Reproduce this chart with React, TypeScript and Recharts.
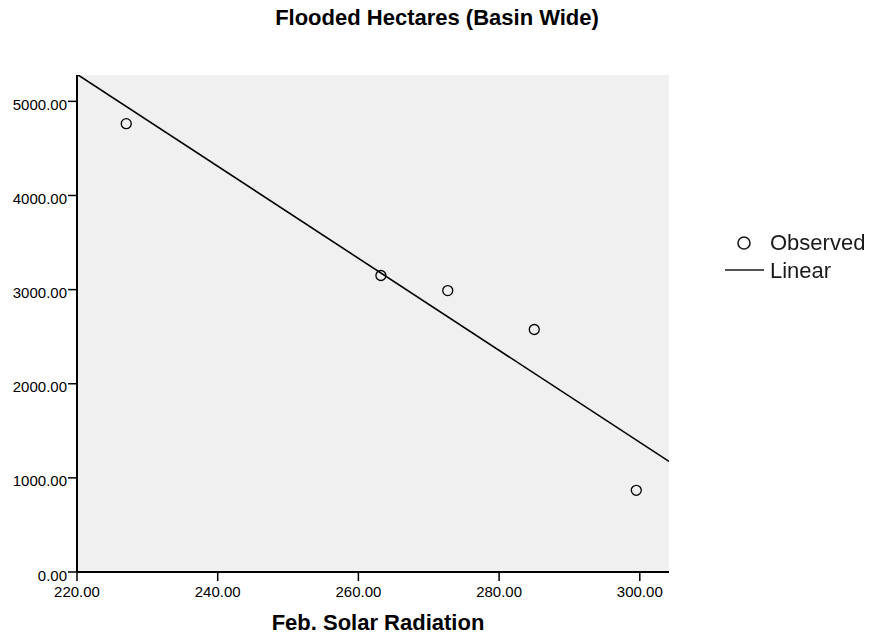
import React from 'react';
import { ScatterChart, Scatter, XAxis, YAxis, CartesianGrid } from 'recharts';

// Observed pairs: February solar radiation vs. basin-wide flooded hectares
const solarRadiation = [227.0, 263.2, 272.7, 285.0, 299.5];
const floodedHectares = [4763, 3150, 2990, 2576, 868];

const xTicks = [220, 240, 260, 280, 300];
const yTicks = [0, 1000, 2000, 3000, 4000, 5000];
const xDomain: [number, number] = [220, 304.15];
const yDomain: [number, number] = [0, 5280];

const observed = solarRadiation.map((x, i) => ({ x, y: floodedHectares[i] }));

// Least-squares linear fit through the observed points, drawn across the x range
function linearFit(xs: number[], ys: number[]) {
  const n = xs.length;
  const mx = xs.reduce((a, b) => a + b, 0) / n;
  const my = ys.reduce((a, b) => a + b, 0) / n;
  let sxy = 0;
  let sxx = 0;
  for (let i = 0; i < n; i++) {
    sxy += (xs[i] - mx) * (ys[i] - my);
    sxx += (xs[i] - mx) * (xs[i] - mx);
  }
  const slope = sxy / sxx;
  const intercept = my - slope * mx;
  return xDomain.map((x) => ({ x, y: intercept + slope * x }));
}
const fitted = linearFit(solarRadiation, floodedHectares);

const FONT = 'Arial, "Liberation Sans", Helvetica, sans-serif';
const fmt = (v: number) => v.toFixed(2);

const OpenCircle = (props: any) => (
  <circle cx={props.cx} cy={props.cy} r={5} fill="none" stroke="#000" strokeWidth={1.3} />
);
const NoMarker = () => <g />;

const XTick = (props: any) => {
  const { x, y, payload } = props;
  return (
    <text x={x} y={y} dy={14} textAnchor="middle" fill="#000" fontSize={15} fontFamily={FONT}>
      {fmt(payload.value)}
    </text>
  );
};

const YTick = (props: any) => {
  const { x, y, payload } = props;
  return (
    <text x={x} y={y} dy={8.5} textAnchor="end" fill="#000" fontSize={15} fontFamily={FONT}>
      {fmt(payload.value)}
    </text>
  );
};

export default function App() {
  return (
    <div style={{ position: 'absolute', left: 0, top: 0, width: 869, height: 641, background: '#fff', fontFamily: FONT }}>
      <div
        style={{
          position: 'absolute',
          left: 0,
          width: 874,
          top: 5,
          textAlign: 'center',
          fontWeight: 'bold',
          fontSize: 22,
          lineHeight: '26px',
          color: '#000',
          whiteSpace: 'nowrap',
        }}
      >
        Flooded Hectares (Basin Wide)
      </div>

      <ScatterChart width={869} height={641} margin={{ top: 75, right: 200, left: 0, bottom: 39 }}>
        <CartesianGrid horizontal={false} vertical={false} fill="#F0F0F0" />
        <XAxis
          type="number"
          dataKey="x"
          domain={xDomain}
          ticks={xTicks}
          allowDataOverflow
          height={30}
          tickSize={9}
          tickMargin={2}
          axisLine={{ stroke: '#000', strokeWidth: 2 }}
          tickLine={{ stroke: '#000', strokeWidth: 1.5 }}
          tick={XTick}
        />
        <YAxis
          type="number"
          dataKey="y"
          domain={yDomain}
          ticks={yTicks}
          allowDataOverflow
          width={77}
          tickSize={9}
          tickMargin={1}
          axisLine={{ stroke: '#000', strokeWidth: 2 }}
          tickLine={{ stroke: '#000', strokeWidth: 1.5 }}
          tick={YTick}
        />
        {/* frame on the top and right edges of the plot */}
        <XAxis
          xAxisId="frame"
          orientation="top"
          type="number"
          domain={xDomain}
          height={0}
          tick={false}
          tickLine={false}
          axisLine={{ stroke: '#000', strokeWidth: 1.5 }}
        />
        <YAxis
          yAxisId="frame"
          orientation="right"
          type="number"
          domain={yDomain}
          width={0}
          tick={false}
          tickLine={false}
          axisLine={{ stroke: '#000', strokeWidth: 1.5 }}
        />
        <Scatter
          name="Linear"
          data={fitted}
          shape={NoMarker}
          line={{ stroke: '#000', strokeWidth: 1.6 }}
          lineType="joint"
          isAnimationActive={false}
        />
        <Scatter name="Observed" data={observed} shape={OpenCircle} isAnimationActive={false} />
      </ScatterChart>

      <div
        style={{
          position: 'absolute',
          left: 0,
          width: 756,
          top: 610,
          textAlign: 'center',
          fontWeight: 'bold',
          fontSize: 22,
          lineHeight: '26px',
          color: '#000',
          whiteSpace: 'nowrap',
        }}
      >
        Feb. Solar Radiation
      </div>

      <div style={{ position: 'absolute', left: 720, top: 228, filter: 'blur(0.4px)', color: '#1a1a1a', fontSize: 22 }}>
        <svg width={50} height={60} style={{ position: 'absolute', left: 0, top: 0 }}>
          <circle cx={24} cy={15} r={6} fill="none" stroke="#1a1a1a" strokeWidth={1.6} />
          <line x1={5} y1={42} x2={44} y2={42} stroke="#1a1a1a" strokeWidth={1.6} />
        </svg>
        <div style={{ position: 'absolute', left: 50, top: 2, lineHeight: '26px', whiteSpace: 'nowrap' }}>Observed</div>
        <div style={{ position: 'absolute', left: 50, top: 30, lineHeight: '26px', whiteSpace: 'nowrap' }}>Linear</div>
      </div>
    </div>
  );
}
